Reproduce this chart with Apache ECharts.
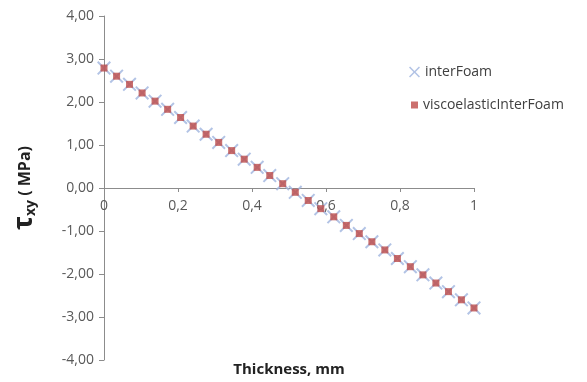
<!DOCTYPE html>
<html>
<head>
<meta charset="utf-8">
<script src="https://cdn.jsdelivr.net/npm/echarts@6/dist/echarts.min.js"></script>
<style>
  html, body { margin: 0; padding: 0; background: #fff; }
  #graph { width: 587px; height: 382px; }
</style>
</head>
<body>
<div id="graph"></div>
<script>
// thickness (mm)
var thickness = [0, 0.034, 0.069, 0.103, 0.138, 0.172, 0.207, 0.241, 0.276, 0.310,
  0.345, 0.379, 0.414, 0.448, 0.483, 0.517, 0.552, 0.586, 0.621, 0.655,
  0.690, 0.724, 0.759, 0.793, 0.828, 0.862, 0.897, 0.931, 0.966, 1];
// shear stress (MPa)
var interFoam = [2.79, 2.60, 2.41, 2.21, 2.02, 1.83, 1.64, 1.44, 1.25, 1.06,
  0.87, 0.67, 0.48, 0.29, 0.10, -0.10, -0.29, -0.48, -0.67, -0.87,
  -1.06, -1.25, -1.44, -1.64, -1.83, -2.02, -2.21, -2.41, -2.60, -2.79];
var viscoelasticInterFoam = [2.79, 2.60, 2.41, 2.21, 2.02, 1.83, 1.64, 1.44, 1.25, 1.06,
  0.87, 0.67, 0.48, 0.29, 0.10, -0.10, -0.29, -0.48, -0.67, -0.87,
  -1.06, -1.25, -1.44, -1.64, -1.83, -2.02, -2.21, -2.41, -2.60, -2.79];

function pairs(xs, ys) {
  var out = [];
  for (var i = 0; i < xs.length; i++) out.push([xs[i], ys[i]]);
  return out;
}

var font = '"Open Sans", "Liberation Sans", sans-serif';
var cross = 'path://M0,1 L1,0 L5,4 L9,0 L10,1 L6,5 L10,9 L9,10 L5,6 L1,10 L0,9 L4,5 Z';
var legendText = { fontFamily: font, fontSize: 14, color: '#404040' };

var myChart = echarts.init(document.getElementById('graph'));
myChart.setOption({
  backgroundColor: '#fff',
  animation: false,
  textStyle: { fontFamily: font },
  grid: { left: 104, right: 113, top: 16, bottom: 22, outerBoundsMode: 'none', containLabel: false },
  legend: [
    {
      left: 404, top: 60,
      itemWidth: 11, itemHeight: 11, itemGap: 5,
      textStyle: legendText,
      data: ['interFoam']
    },
    {
      left: 406, top: 93,
      itemWidth: 7, itemHeight: 7, itemGap: 5,
      textStyle: legendText,
      data: ['viscoelasticInterFoam']
    }
  ],
  xAxis: {
    type: 'value',
    min: 0,
    max: 1,
    interval: 0.2,
    offset: -172,
    splitLine: { show: false },
    axisLine: { onZero: false, lineStyle: { color: '#8c8c8c' } },
    axisTick: { length: 4, lineStyle: { color: '#8c8c8c' } },
    axisLabel: {
      margin: 11,
      fontSize: 14,
      color: '#595959',
      formatter: function (v) { return String(+v.toFixed(1)).replace('.', ','); }
    },
    name: 'Thickness, mm',
    nameLocation: 'middle',
    nameGap: 174,
    nameTextStyle: { fontSize: 15, fontWeight: 'bold', color: '#222' }
  },
  yAxis: {
    type: 'value',
    min: -4,
    max: 4,
    interval: 1,
    splitLine: { show: false },
    axisLine: { lineStyle: { color: '#8c8c8c' } },
    axisTick: { length: 5, lineStyle: { color: '#8c8c8c' } },
    axisLabel: {
      margin: 10,
      fontSize: 14,
      color: '#595959',
      formatter: function (v) { return v.toFixed(2).replace('.', ','); }
    },
    name: '{t|τ}{s|xy}{m| ( MPa)}',
    nameLocation: 'middle',
    nameGap: 66,
    nameRotate: 90,
    nameTextStyle: {
      color: '#222',
      rich: {
        t: { fontSize: 26, fontWeight: 'bold', fontFamily: font, color: '#222' },
        s: { fontSize: 14, fontWeight: 'bold', fontFamily: font, color: '#222', padding: [12, 0, 0, 0] },
        m: { fontSize: 16, fontWeight: 'bold', fontFamily: font, color: '#222' }
      }
    }
  },
  series: [
    {
      name: 'interFoam',
      type: 'scatter',
      symbol: cross,
      symbolSize: 14,
      itemStyle: { color: '#9fb4de' },
      data: pairs(thickness, interFoam)
    },
    {
      name: 'viscoelasticInterFoam',
      type: 'scatter',
      symbol: 'rect',
      symbolSize: 7,
      itemStyle: { color: '#be4b48' },
      data: pairs(thickness, viscoelasticInterFoam)
    }
  ]
});
</script>
</body>
</html>
